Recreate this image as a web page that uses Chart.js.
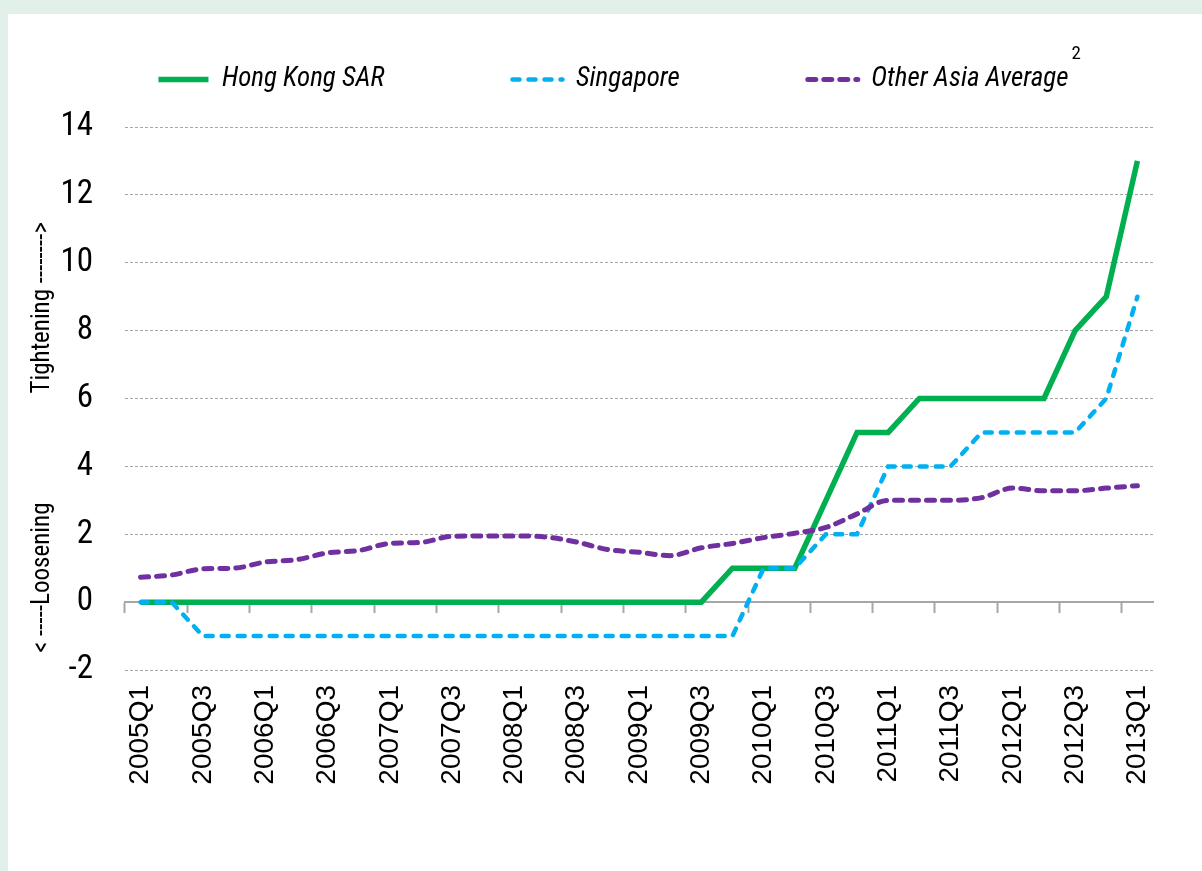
<!DOCTYPE html>
<html>
<head>
<meta charset="utf-8">
<title>Macroprudential tightening</title>
<script src="https://cdn.jsdelivr.net/npm/chart.js@4.4.1/dist/chart.umd.min.js"></script>
<style>
    html, body { margin: 0; padding: 0; width: 1202px; height: 871px; overflow: hidden; background: #e1f0e9; }
    #panel { position: absolute; left: 8px; top: 14px; right: 0; bottom: 0; background: #fff; }
    #wrap { position: absolute; left: 8px; top: -62px; width: 1211px; height: 933px; }
</style>
</head>
<body>
<div id="panel"></div>
<div id="wrap"><canvas id="myChart"></canvas></div>
<script>
var quarters = ['2005Q1', '2005Q2', '2005Q3', '2005Q4', '2006Q1', '2006Q2', '2006Q3', '2006Q4',
    '2007Q1', '2007Q2', '2007Q3', '2007Q4', '2008Q1', '2008Q2', '2008Q3', '2008Q4',
    '2009Q1', '2009Q2', '2009Q3', '2009Q4', '2010Q1', '2010Q2', '2010Q3', '2010Q4',
    '2011Q1', '2011Q2', '2011Q3', '2011Q4', '2012Q1', '2012Q2', '2012Q3', '2012Q4', '2013Q1'];

var hongKong = [0, 0, 0, 0, 0, 0, 0, 0, 0, 0, 0, 0, 0, 0, 0, 0, 0, 0, 0,
    1, 1, 1, 3, 5, 5, 6, 6, 6, 6, 6, 8, 9, 13];

var singapore = [0, 0, -1, -1, -1, -1, -1, -1, -1, -1, -1, -1, -1, -1, -1, -1, -1, -1, -1, -1,
    1, 1, 2, 2, 4, 4, 4, 5, 5, 5, 5, 6, 9];

var otherAsia = [0.73, 0.8, 0.98, 1.0, 1.18, 1.25, 1.45, 1.52, 1.73, 1.76, 1.94, 1.95,
    1.95, 1.92, 1.77, 1.55, 1.47, 1.37, 1.6, 1.73, 1.9, 2.03, 2.2, 2.6,
    3.0, 3.0, 3.0, 3.08, 3.36, 3.28, 3.28, 3.36, 3.43];

var yMin = -2, yMax = 14, yStep = 2;
// starts at the bottom of the plot, leading nbsp keep a small gap
var yTitle = '\u00A0\u00A0\u00A0< -----Loosening                   Tightening -------->';

// Roboto with the condensed stretch (passed through the weight slot)
var narrow = 'Roboto, sans-serif';

    //make room between legend and plot
var legendHeight = {
    id: 'legendHeight',
    beforeInit: function(chart) {
        var fit = chart.legend.fit;
        chart.legend.fit = function() {
            fit.call(this);
            this.height = 189;
        };
    }
};

    //footnote mark after last legend entry
var superscript = {
    id: 'superscript',
    afterDraw: function(chart) {
        var boxes = chart.legend.legendHitBoxes;
        var last = boxes[boxes.length - 1];
        var c = chart.ctx;
        c.save();
        c.font = "condensed 19px " + narrow;
        c.fillStyle = '#000';
        c.textBaseline = 'middle';
        c.fillText('2', last.left + last.width + 3, last.top - 12);
        c.restore();
    }
};

function evenOnly(color) {
    return function(c) {
        return c.index % 2 === 0 ? color : 'rgba(0,0,0,0)';
    };
}

var ctx = document.getElementById('myChart').getContext('2d');
var chart = new Chart(ctx, {
    type: 'line',
    data: {
        labels: quarters,
        datasets: [{
            label: 'Hong Kong SAR',
            data: hongKong,
            borderColor: '#00b050',
            backgroundColor: '#00b050',
            borderWidth: 5.5,
            pointRadius: 0,
            order: 3
        }, {
            label: 'Singapore',
            data: singapore,
            borderColor: '#00b0f0',
            backgroundColor: '#00b0f0',
            borderWidth: 4.5,
            borderDash: [7, 9],
            borderCapStyle: 'round',
            pointRadius: 0,
            order: 2
        }, {
            label: 'Other Asia Average',
            data: otherAsia,
            borderColor: '#7030a0',
            backgroundColor: '#7030a0',
            borderWidth: 5,
            borderDash: [8, 8],
            borderCapStyle: 'round',
            cubicInterpolationMode: 'monotone',
            pointRadius: 0,
            order: 1
        }]
    },
    options: {
        responsive: true,
        maintainAspectRatio: false,
        animation: false,
        layout: { padding: 0 },
        plugins: {
            legend: {
                position: 'top',
                labels: {
                    usePointStyle: true,
                    pointStyle: 'line',
                    pointStyleWidth: 50,
                    padding: 128,
                    color: '#000',
                    font: { family: narrow, size: 27, style: 'italic', weight: 'condensed' },
                    sort: function(a, b) { return a.datasetIndex - b.datasetIndex; },
                    generateLabels: function(chart) {
                        var items = Chart.defaults.plugins.legend.labels.generateLabels(chart);
                        items.forEach(function(item) {
                            var ds = chart.data.datasets[item.datasetIndex];
                            item.lineDash = ds.borderDash || [];
                            item.lineCap = ds.borderCapStyle || 'butt';
                            item.lineWidth = ds.borderWidth;
                        });
                        return items;
                    }
                }
            },
            tooltip: { enabled: false }
        },
        scales: {
            x: {
                type: 'category',
                position: { y: 0 },
                offset: true,
                ticks: { display: false, autoSkip: false },
                grid: {
                    offset: true,
                    drawOnChartArea: false,
                    drawTicks: true,
                    tickLength: 10,
                    tickWidth: 2,
                    color: evenOnly('#a6a6a6'),
                    tickColor: evenOnly('#a6a6a6')
                },
                border: { display: true, color: '#a6a6a6', width: 2 }
            },
            x2: {
                type: 'category',
                position: 'bottom',
                offset: true,
                grid: { display: false, drawTicks: false },
                border: { display: false },
                ticks: {
                    autoSkip: false,
                    maxRotation: 90,
                    minRotation: 90,
                    padding: 15,
                    color: '#000',
                    font: { family: "'Liberation Sans', Arial, sans-serif", size: 28 },
                    callback: function(val, i) {
                        return i % 2 === 0 ? this.getLabelForValue(val) : '';
                    }
                },
                afterFit: function(scale) { scale.height = 201; }
            },
            y: {
                position: 'left',
                min: yMin,
                max: yMax,
                ticks: {
                    stepSize: yStep,
                    padding: 32,
                    color: '#000',
                    font: { family: narrow, size: 33, weight: 'condensed' }
                },
                grid: {
                    drawTicks: false,
                    lineWidth: 1,
                    color: function(c) { return c.tick.value === 0 ? 'rgba(0,0,0,0)' : '#a6a6a6'; }
                },
                border: { display: false, dash: [3, 2] },
                title: {
                    display: true,
                    align: 'start',
                    text: yTitle,
                    color: '#000',
                    font: { family: narrow, size: 25, weight: 'condensed' },
                    padding: { top: 20, bottom: 0 }
                },
                afterFit: function(scale) { scale.width = 117; }
            },
            yR: {
                position: 'right',
                display: true,
                min: yMin,
                max: yMax,
                ticks: { display: false },
                grid: { display: false, drawTicks: false },
                border: { display: false },
                afterFit: function(scale) { scale.width = 66; }
            }
        }
    },
    plugins: [legendHeight, superscript]
});
</script>
</body>
</html>
